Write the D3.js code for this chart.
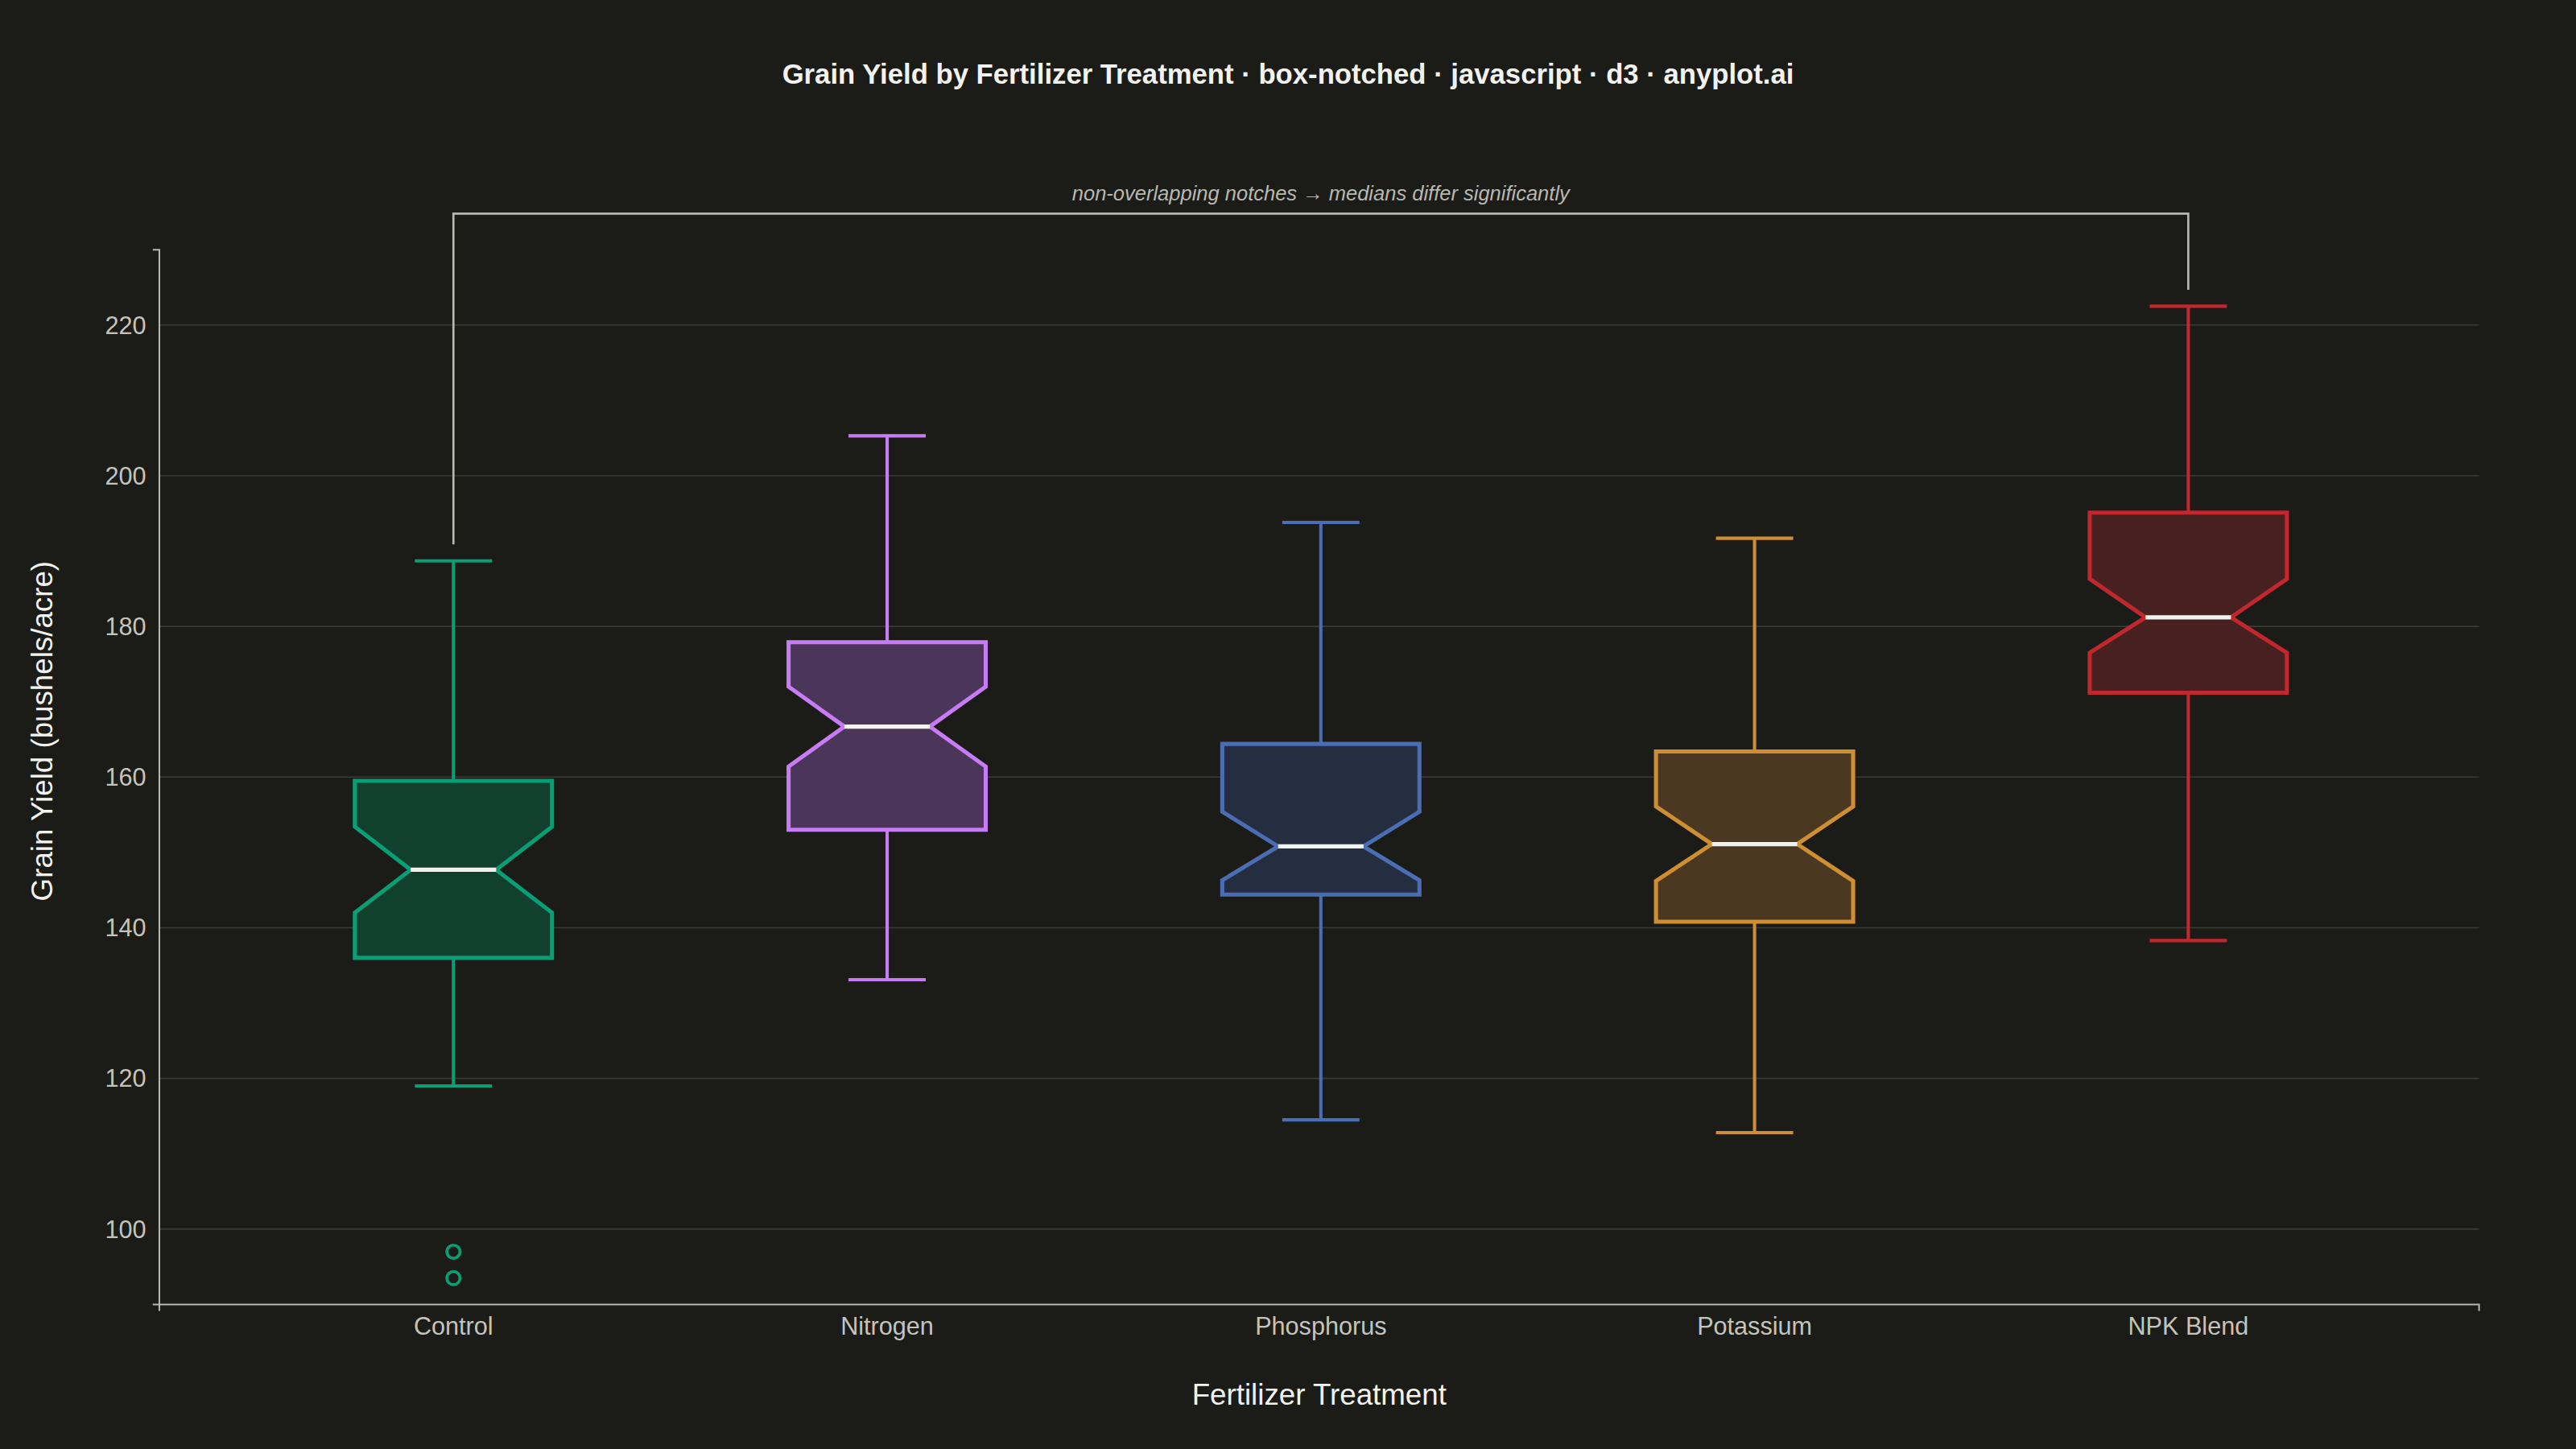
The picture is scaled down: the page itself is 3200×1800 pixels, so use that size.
<!DOCTYPE html>
<html><head><meta charset="utf-8">
<script src="https://cdn.jsdelivr.net/npm/d3@7"></script>
<style>html,body{margin:0;background:#1b1b18;}svg{display:block;}</style>
</head><body>
<svg id="chart" width="3200" height="1800" viewBox="0 0 1568 882"></svg>
<script>
// --- Data ---
const categories = ["Control", "Nitrogen", "Phosphorus", "Potassium", "NPK Blend"];
const colors = ["#0a9e74", "#c77cf5", "#4a6db3", "#d08e33", "#c0282e"];
const fills = ["#11402f", "#4b3659", "#252e40", "#4a3820", "#472020"];
const whiskerLow = [119.0, 133.1, 114.5, 112.8, 138.3];
const q1 = [136.0, 153.0, 144.4, 140.8, 171.2];
const medians = [147.7, 166.7, 150.8, 151.1, 181.2];
const q3 = [159.5, 177.9, 164.4, 163.4, 195.1];
const whiskerHigh = [188.7, 205.3, 193.8, 191.7, 222.5];
const notchLow = [142.0, 161.4, 146.3, 146.2, 176.5];
const notchHigh = [153.4, 172.0, 155.4, 156.1, 186.3];
const outliers = [[97.0, 93.5], [], [], [], []];
const yTicks = [100, 120, 140, 160, 180, 200, 220];

const svg = d3.select("#chart");
const margin = {left: 97, right: 1509, top: 152, bottom: 794};
const x = d3.scaleBand().domain(categories).range([margin.left, margin.right]).paddingInner(0).paddingOuter(0.0);
const y = d3.scaleLinear().domain([90, 230]).range([margin.bottom, margin.top]);
const cx = c => x(c) + x.bandwidth() / 2 - 0; // center
// reference centers at 276, 540, 804, 1067, 1331 -> band of ~264 starting at 144
x.range([144 - 0, 144 + 264 * 5]);

// grid
svg.append("g").selectAll("line").data(yTicks).join("line")
  .attr("x1", margin.left).attr("x2", margin.right)
  .attr("y1", d => y(d)).attr("y2", d => y(d))
  .attr("stroke", "#3a3a36").attr("stroke-width", 0.8);

// axes
const yAxis = svg.append("g").attr("transform", `translate(${margin.left},0)`)
  .call(d3.axisLeft(y).tickValues(yTicks).tickSize(0).tickPadding(8));
yAxis.select(".domain").attr("stroke", "#b8b8b0").attr("d", `M-4,${margin.top}H0V${margin.bottom}H-4`);
yAxis.selectAll("text").attr("fill", "#c4c4bc").style("font", "15px 'Liberation Sans', Arial, sans-serif");

const xAxis = svg.append("g").attr("transform", `translate(0,${margin.bottom})`)
  .call(d3.axisBottom(x).tickSize(0).tickPadding(8));
xAxis.select(".domain").attr("stroke", "#b8b8b0").attr("d", `M${margin.left},4V0H${margin.right}V4`);
xAxis.selectAll("text").attr("fill", "#c4c4bc").style("font", "15px 'Liberation Sans', Arial, sans-serif");

// boxes
const boxW = 120, notchIn = 34, capW = 47;
categories.forEach((c, i) => {
  const m = cx(c), L = m - boxW / 2, R = m + boxW / 2;
  const g = svg.append("g");
  const st = colors[i];
  g.append("line").attr("x1", m).attr("x2", m).attr("y1", y(whiskerLow[i])).attr("y2", y(q1[i])).attr("stroke", st).attr("stroke-width", 2);
  g.append("line").attr("x1", m).attr("x2", m).attr("y1", y(q3[i])).attr("y2", y(whiskerHigh[i])).attr("stroke", st).attr("stroke-width", 2);
  [whiskerLow[i], whiskerHigh[i]].forEach(v => g.append("line")
    .attr("x1", m - capW / 2).attr("x2", m + capW / 2).attr("y1", y(v)).attr("y2", y(v))
    .attr("stroke", st).attr("stroke-width", 2));
  const pts = [
    [L, y(q3[i])], [R, y(q3[i])], [R, y(notchHigh[i])], [R - notchIn, y(medians[i])],
    [R, y(notchLow[i])], [R, y(q1[i])], [L, y(q1[i])], [L, y(notchLow[i])],
    [L + notchIn, y(medians[i])], [L, y(notchHigh[i])]
  ];
  g.append("path").attr("d", d3.line()(pts) + "Z")
    .attr("fill", fills[i]).attr("stroke", st).attr("stroke-width", 2.5).attr("stroke-linejoin", "miter");
  g.append("line").attr("x1", L + notchIn).attr("x2", R - notchIn)
    .attr("y1", y(medians[i])).attr("y2", y(medians[i])).attr("stroke", "#f2f2ee").attr("stroke-width", 2.5);
  g.selectAll("circle").data(outliers[i]).join("circle")
    .attr("cx", m).attr("cy", d => y(d)).attr("r", 4)
    .attr("fill", "none").attr("stroke", st).attr("stroke-width", 1.8);
});

// significance bracket
const bx1 = cx("Control"), bx2 = cx("NPK Blend"), by = 130;
svg.append("path")
  .attr("d", `M${bx1},${y(whiskerHigh[0]) - 10}V${by}H${bx2}V${y(whiskerHigh[4]) - 10}`)
  .attr("fill", "none").attr("stroke", "#b8b8b0").attr("stroke-width", 1.3);
svg.append("text").attr("x", (bx1 + bx2) / 2).attr("y", by - 8).attr("text-anchor", "middle")
  .attr("fill", "#b8b8b0").style("font", "italic 12.5px 'Liberation Sans', Arial, sans-serif")
  .text("non-overlapping notches \u2192 medians differ significantly");

// titles
svg.append("text").attr("x", 784).attr("y", 51).attr("text-anchor", "middle")
  .attr("fill", "#f2f2ee").style("font", "bold 17px 'Liberation Sans', Arial, sans-serif")
  .text("Grain Yield by Fertilizer Treatment \u00b7 box-notched \u00b7 javascript \u00b7 d3 \u00b7 anyplot.ai");
svg.append("text").attr("x", (margin.left + margin.right) / 2).attr("y", 855).attr("text-anchor", "middle")
  .attr("fill", "#f2f2ee").style("font", "18px 'Liberation Sans', Arial, sans-serif").text("Fertilizer Treatment");
svg.append("text").attr("transform", `translate(32,${(margin.top + margin.bottom) / 2 - 28}) rotate(-90)`)
  .attr("text-anchor", "middle").attr("fill", "#f2f2ee")
  .style("font", "18px 'Liberation Sans', Arial, sans-serif").text("Grain Yield (bushels/acre)");
</script>
</body></html>
